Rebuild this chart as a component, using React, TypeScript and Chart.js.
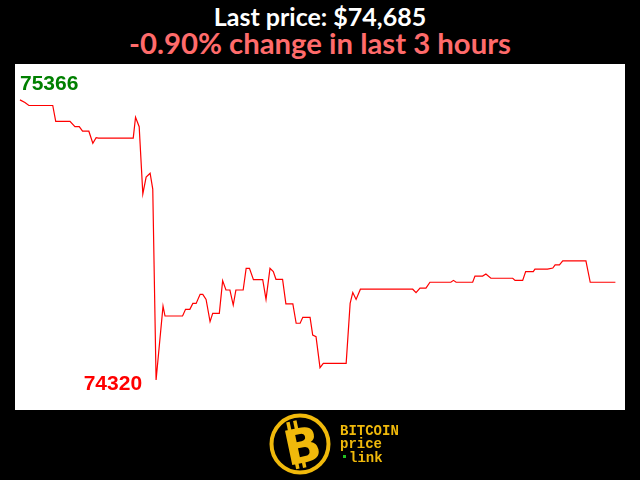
import React, { useEffect, useRef } from "react";
import { Chart, registerables } from "chart.js";

Chart.register(...registerables);

const titleText = "Last price: $74,685";
const subtitleText = "-0.90% change in last 3 hours";

// minutes since start of the 3-hour window
const minutes = [
  0.3, 1.8, 3.0, 10.2, 11.1, 15.4, 16.9, 18.2, 19.2, 21.1, 22.3, 23.3, 24.0, 34.5, 35.2, 36.3,
  37.4, 38.4, 39.6, 40.4, 41.4, 43.5, 44.1, 49.4, 50.3, 51.6, 52.5, 53.5, 54.7, 55.5, 56.5, 57.7,
  58.5, 60.5, 61.5, 62.5, 63.7, 64.7, 65.5, 67.7, 68.6, 69.6, 70.8, 73.6, 74.6, 75.8, 76.8, 77.6,
  79.6, 80.6, 82.7, 83.7, 84.9, 85.7, 87.9, 88.7, 89.7, 90.9, 91.9, 98.8, 100.0, 100.8, 101.8,
  103.1, 118.9, 119.9, 121.1, 122.9, 124.1, 130.4, 131.2, 132.0, 137.0, 137.7, 140.0, 141.0,
  142.5, 149.1, 149.8, 152.1, 153.0, 155.3, 155.8, 159.6, 161.2, 161.9, 163.2, 164.2, 171.2,
  172.5, 180.1,
];

const prices = [
  75366, 75356, 75345, 75345, 75286, 75286, 75266, 75266, 75249, 75249, 75204, 75225, 75223, 75223, 75301, 75266,
  75015, 75078, 75092, 75033, 74320, 74596, 74559, 74559, 74584, 74584, 74606, 74606, 74640, 74640, 74621, 74538,
  74569, 74569, 74691, 74656, 74656, 74600, 74656, 74656, 74737, 74737, 74695, 74695, 74621, 74737, 74725, 74696,
  74696, 74604, 74604, 74532, 74532, 74554, 74554, 74488, 74482, 74366, 74382, 74382, 74606, 74647, 74621,
  74659, 74659, 74646, 74663, 74663, 74685, 74685, 74692, 74685, 74685, 74708, 74708, 74716,
  74700, 74700, 74692, 74692, 74725, 74725, 74734, 74734, 74738, 74750, 74750, 74765, 74765,
  74685, 74685,
];

const labelsPlugin = {
  id: "bgAndLabels",
  beforeDraw(chart: any) {
    const { ctx, chartArea } = chart;
    ctx.save();
    ctx.fillStyle = "#ffffff";
    ctx.fillRect(chartArea.left, chartArea.top, chartArea.right - chartArea.left, chartArea.bottom - chartArea.top);
    ctx.restore();
  },
  afterDatasetsDraw(chart: any) {
    const { ctx, scales } = chart;
    const xs = scales.x;
    const ys = scales.y;
    let maxI = 0;
    let minI = 0;
    prices.forEach((p, i) => {
      if (p > prices[maxI]) maxI = i;
      if (p < prices[minI]) minI = i;
    });
    ctx.save();
    ctx.font = "bold 21px 'Liberation Sans', Arial, sans-serif";
    ctx.fillStyle = "#008000";
    ctx.textAlign = "left";
    ctx.textBaseline = "bottom";
    ctx.fillText(String(prices[maxI]), xs.getPixelForValue(minutes[maxI]), ys.getPixelForValue(prices[maxI]) - 5);
    ctx.fillStyle = "#ff0000";
    ctx.textAlign = "right";
    ctx.textBaseline = "middle";
    ctx.fillText(String(prices[minI]), xs.getPixelForValue(minutes[minI]) - 14, ys.getPixelForValue(prices[minI]) + 4);
    ctx.restore();
  },
};

function Logo() {
  const gold = "#f0b90b";
  return (
    <svg width={160} height={75} style={{ position: "absolute", left: 260, top: 405 }}>
      <circle cx={40} cy={39} r={28.5} fill="none" stroke={gold} strokeWidth={4} />
      <g transform="rotate(-12 40 39)">
        <rect x={31} y={15} width={3.5} height={9} fill={gold} />
        <rect x={38} y={15} width={3.5} height={9} fill={gold} />
        <rect x={31} y={54} width={3.5} height={9} fill={gold} />
        <rect x={38} y={54} width={3.5} height={9} fill={gold} />
        <text
          x={42}
          y={58}
          textAnchor="middle"
          fill={gold}
          style={{ font: "900 48px 'DejaVu Sans', sans-serif" }}
        >
          B
        </text>
      </g>
      <g style={{ font: "bold 14px 'Liberation Mono', 'DejaVu Sans Mono', monospace" }} fill={gold}>
        <text x={80} y={30}>BITCOIN</text>
        <text x={80} y={43}>price</text>
        <text x={89} y={57}>link</text>
      </g>
      <rect x={83} y={50} width={3} height={3} fill="#22c022" />
    </svg>
  );
}

export default function App() {
  const canvasRef = useRef<HTMLCanvasElement | null>(null);

  useEffect(() => {
    if (!canvasRef.current) return;
    const data = minutes.map((m, i) => ({ x: m, y: prices[i] }));
    const chart = new Chart(canvasRef.current, {
      type: "line",
      data: {
        datasets: [
          {
            data,
            borderColor: "#ff0000",
            borderWidth: 1.2,
            pointRadius: 0,
            tension: 0,
            fill: false,
          },
        ],
      },
      options: {
        animation: false,
        responsive: false,
        layout: { padding: { left: 15, right: 15, top: 64, bottom: 70 } },
        plugins: { legend: { display: false }, tooltip: { enabled: false } },
        scales: {
          x: { type: "linear", min: -1.2, max: 183.0, display: false },
          y: { type: "linear", min: 74208, max: 75500, display: false },
        },
      },
      plugins: [labelsPlugin],
    });
    return () => chart.destroy();
  }, []);

  return (
    <div
      style={{
        position: "fixed",
        left: 0,
        top: 0,
        width: 640,
        height: 480,
        background: "#000000",
        overflow: "hidden",
      }}
    >
      <div
        style={{
          position: "absolute",
          left: 0,
          top: 1,
          width: 640,
          textAlign: "center",
          color: "#ffffff",
          font: "bold 25px Lato, sans-serif",
          lineHeight: "30px",
        }}
      >
        {titleText}
      </div>
      <div
        style={{
          position: "absolute",
          left: 0,
          top: 26,
          width: 640,
          textAlign: "center",
          color: "#ff6b6b",
          font: "bold 29.3px Lato, sans-serif",
          lineHeight: "34px",
        }}
      >
        {subtitleText}
      </div>
      <canvas
        ref={canvasRef}
        width={640}
        height={480}
        style={{ position: "absolute", left: 0, top: 0, width: 640, height: 480 }}
      />
      <Logo />
    </div>
  );
}
